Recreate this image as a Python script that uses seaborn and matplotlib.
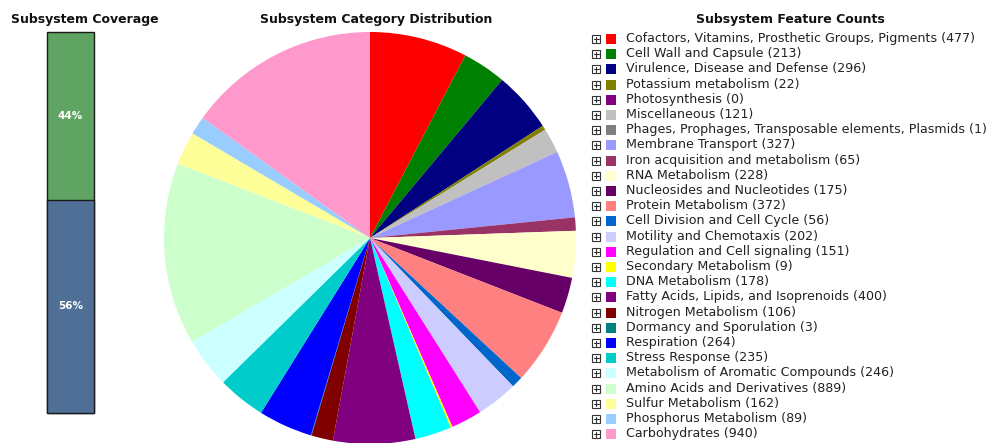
import numpy as np
import pandas as pd
import seaborn as sns
import matplotlib.pyplot as plt
from matplotlib.patches import Rectangle

sns.set_theme(style="white")
plt.rcParams['font.family'] = ['DejaVu Sans']

# --- Data ---
categories = [
    'Cofactors, Vitamins, Prosthetic Groups, Pigments', 'Cell Wall and Capsule',
    'Virulence, Disease and Defense', 'Potassium metabolism', 'Photosynthesis',
    'Miscellaneous', 'Phages, Prophages, Transposable elements, Plasmids',
    'Membrane Transport', 'Iron acquisition and metabolism', 'RNA Metabolism',
    'Nucleosides and Nucleotides', 'Protein Metabolism', 'Cell Division and Cell Cycle',
    'Motility and Chemotaxis', 'Regulation and Cell signaling', 'Secondary Metabolism',
    'DNA Metabolism', 'Fatty Acids, Lipids, and Isoprenoids', 'Nitrogen Metabolism',
    'Dormancy and Sporulation', 'Respiration', 'Stress Response',
    'Metabolism of Aromatic Compounds', 'Amino Acids and Derivatives',
    'Sulfur Metabolism', 'Phosphorus Metabolism', 'Carbohydrates',
]
counts = [477, 213, 296, 22, 0, 121, 1, 327, 65, 228, 175, 372, 56, 202, 151,
          9, 178, 400, 106, 3, 264, 235, 246, 889, 162, 89, 940]
colors = ['#FF0000', '#008000', '#000080', '#808000', '#800080', '#C0C0C0',
          '#808080', '#9999FF', '#993366', '#FFFFCC', '#660066', '#FF8080',
          '#0066CC', '#CCCCFF', '#FF00FF', '#FFFF00', '#00FFFF', '#800080',
          '#800000', '#008080', '#0000FF', '#00CCCC', '#CCFFFF', '#CCFFCC',
          '#FFFF99', '#99CCFF', '#FF99CC']

coverage_pct = [44, 56]   # in subsystem (top), not in subsystem (bottom)
coverage_colors = ['#5FA463', '#4F6F97']

W, H = 991, 443
fig = plt.figure(figsize=(W / 100, H / 100), dpi=100)

def px_axes(x0, y0, x1, y1):
    # pixel box (top-left origin) -> figure axes
    return fig.add_axes([x0 / W, (H - y1) / H, (x1 - x0) / W, (y1 - y0) / H])

# --- Coverage bar ---
ax_bar = px_axes(47, 32, 94, 413)
sns.barplot(x=['c'], y=[sum(coverage_pct)], color=coverage_colors[0], saturation=1,
            width=1, edgecolor='#1a1a1a', linewidth=1, ax=ax_bar)
sns.barplot(x=['c'], y=[coverage_pct[1]], color=coverage_colors[1], saturation=1,
            width=1, edgecolor='#1a1a1a', linewidth=1, ax=ax_bar)
for p in ax_bar.patches:
    p.set_clip_on(False)
ax_bar.set_xlim(-0.5, 0.5)
ax_bar.set_ylim(0, 100)
ax_bar.axis('off')
ax_bar.text(0, coverage_pct[1] + coverage_pct[0] / 2, f'{coverage_pct[0]}%', color='white',
            fontsize=7.5, fontweight='bold', ha='center', va='center')
ax_bar.text(0, coverage_pct[1] / 2, f'{coverage_pct[1]}%', color='white',
            fontsize=7.5, fontweight='bold', ha='center', va='center')

# --- Pie ---
ax_pie = px_axes(164, 32, 576, 444)
ax_pie.pie(counts, colors=colors, startangle=90, counterclock=False,
           wedgeprops=dict(linewidth=0))
ax_pie.set_xlim(-1, 1)
ax_pie.set_ylim(-1, 1)
ax_pie.set_aspect('equal')
ax_pie.axis('off')

# --- Titles ---
title_kw = dict(ha='center', va='center', fontsize=9, fontweight='bold', color='#111111')
fig.text(85 / W, 1 - 19 / H, 'Subsystem Coverage', **title_kw)
fig.text(376 / W, 1 - 19 / H, 'Subsystem Category Distribution', **title_kw)
fig.text(790 / W, 1 - 19 / H, 'Subsystem Feature Counts', **title_kw)

# --- Legend ---
ax_leg = fig.add_axes([0, 0, 1, 1])
ax_leg.set_xlim(0, W)
ax_leg.set_ylim(H, 0)
ax_leg.axis('off')
for i, (name, n, c) in enumerate(zip(categories, counts, colors)):
    y = 38.5 + i * 15.2
    ax_leg.add_patch(Rectangle((592, y - 3.5), 8, 8, facecolor='white',
                               edgecolor='#333333', linewidth=0.8))
    ax_leg.plot([593.5, 598.5], [y + 0.5, y + 0.5], color='#333333', linewidth=0.8)
    ax_leg.plot([596, 596], [y - 2, y + 3], color='#333333', linewidth=0.8)
    ax_leg.add_patch(Rectangle((606, y - 4.5), 10, 10, facecolor=c, edgecolor='none'))
    ax_leg.text(626, y, f'{name} ({n})', fontsize=9.1, va='center', ha='left',
                color='#222222')

fig.savefig('out.png', dpi=100)
